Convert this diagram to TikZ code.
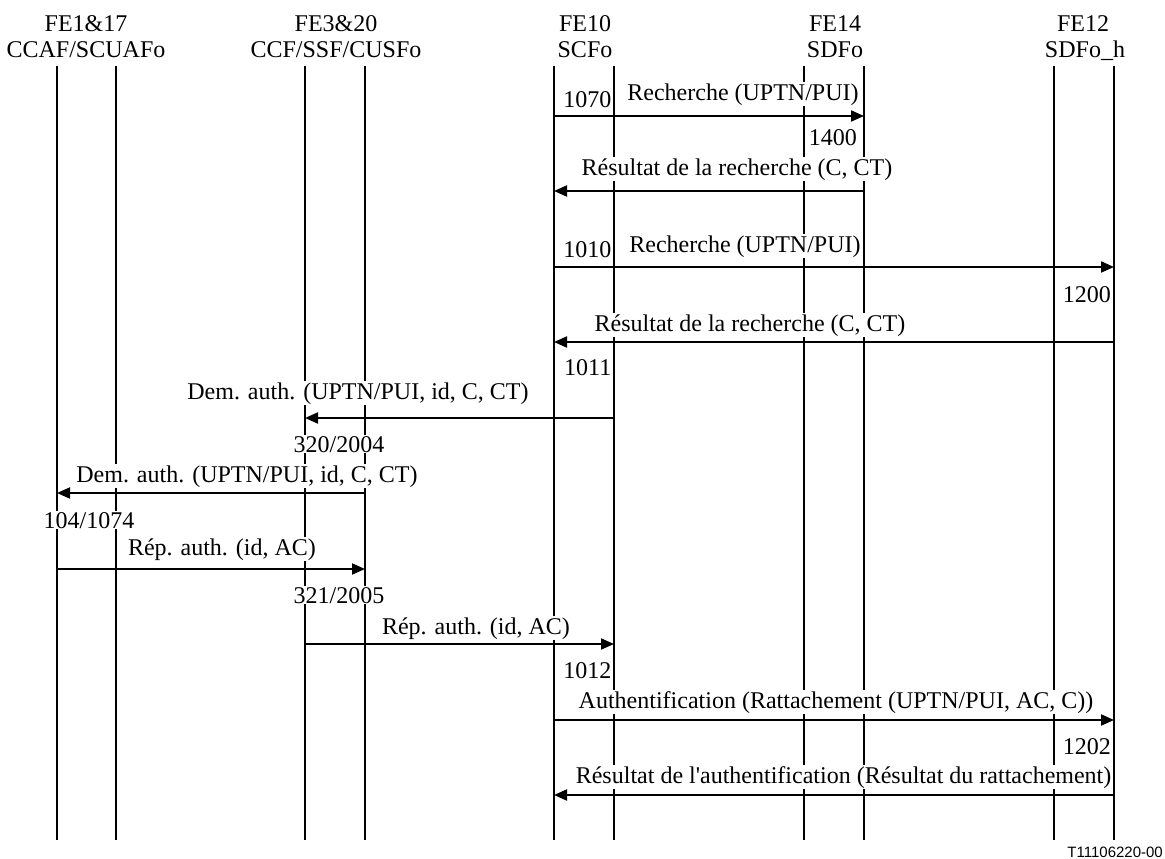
\documentclass[tikz,border=0pt]{standalone}
\usepackage{fontspec}
\setmainfont{Liberation Serif}
\newfontfamily\figsans{Liberation Sans}
\usetikzlibrary{arrows.meta}
\begin{document}
\begin{tikzpicture}[x=1pt,y=-1pt,
  lifeline/.style={line width=2pt},
  msg/.style={line width=2pt,-{Triangle[length=13pt,width=11pt]}},
  lbl/.style={fill=white,inner sep=1pt,font=\fontsize{24}{28}\selectfont},
  hdr/.style={inner sep=0pt,font=\fontsize{24}{28}\selectfont},
  figid/.style={inner sep=0pt,font=\figsans\fontsize{15}{18}\selectfont}]
\useasboundingbox (0,0) rectangle (1165,859);

% lifeline ends
\foreach \n/\x in {ccaf/57, scuafo/116, ccf/305, cusfo/365, scfo/554, scfob/614,
                   sdfoa/804, sdfo/864, sdfoha/1054, sdfoh/1114} {
  \coordinate (\n-top) at (\x,66);
  \coordinate (\n-bot) at (\x,840);
  \draw[lifeline] (\n-top) -- (\n-bot);
}

% headers
\node[hdr,anchor=base] (h1a) at (86,32) {FE1\&17};
\node[hdr,anchor=base] (h1b) at (86,58) {CCAF/SCUAFo};
\node[hdr,anchor=base] (h2a) at (336,32) {FE3\&20};
\node[hdr,anchor=base] (h2b) at (336,58) {CCF/SSF/CUSFo};
\node[hdr,anchor=base] (h3a) at (585,32) {FE10};
\node[hdr,anchor=base] (h3b) at (585,58) {SCFo};
\node[hdr,anchor=base] (h4a) at (835,32) {FE14};
\node[hdr,anchor=base] (h4b) at (835,58) {SDFo};
\node[hdr,anchor=base] (h5a) at (1083,32) {FE12};
\node[hdr,anchor=base] (h5b) at (1085,58) {SDFo\_h};

% message rows
\coordinate (r1) at (0,116);
\coordinate (r2) at (0,191);
\coordinate (r3) at (0,267);
\coordinate (r4) at (0,342);
\coordinate (r5) at (0,418);
\coordinate (r6) at (0,493);
\coordinate (r7) at (0,569);
\coordinate (r8) at (0,644);
\coordinate (r9) at (0,720);
\coordinate (r10) at (0,795);

% messages
\draw[msg] (scfo-top |- r1) -- (sdfo-top |- r1);
\draw[msg] (sdfo-top |- r2) -- (scfo-top |- r2);
\draw[msg] (scfo-top |- r3) -- (sdfoh-top |- r3);
\draw[msg] (sdfoh-top |- r4) -- (scfo-top |- r4);
\draw[msg] (scfob-top |- r5) -- (ccf-top |- r5);
\draw[msg] (cusfo-top |- r6) -- (ccaf-top |- r6);
\draw[msg] (ccaf-top |- r7) -- (cusfo-top |- r7);
\draw[msg] (ccf-top |- r8) -- (scfob-top |- r8);
\draw[msg] (scfo-top |- r9) -- (sdfoh-top |- r9);
\draw[msg] (sdfoh-top |- r10) -- (scfo-top |- r10);

% message labels
\node[lbl,anchor=base east] (n1070) at (612.5,107) {1070};
\node[lbl,anchor=base] (t1) at (743,100) {Recherche (UPTN/PUI)};
\node[lbl,anchor=base east] (n1400) at (858,145) {1400};
\node[lbl,anchor=base] (t2) at (737,175) {Résultat de la recherche (C, CT)};
\node[lbl,anchor=base east] (n1010) at (612.5,257) {1010};
\node[lbl,anchor=base] (t3) at (745,252) {Recherche (UPTN/PUI)};
\node[lbl,anchor=base east] (n1200) at (1112,302) {1200};
\node[lbl,anchor=base] (t4) at (750,331) {Résultat de la recherche (C, CT)};
\node[lbl,anchor=base east] (n1011) at (612.5,375) {1011};
\node[lbl,anchor=base] (t5) at (358,399) {Dem. auth. (UPTN/PUI, id, C, CT)};
\node[lbl,anchor=base] (n320) at (339,452) {320/2004};
\node[lbl,anchor=base] (t6) at (247,482) {Dem. auth. (UPTN/PUI, id, C, CT)};
\node[lbl,anchor=base] (n104) at (89,528) {104/1074};
\node[lbl,anchor=base] (t7) at (222,555) {Rép. auth. (id, AC)};
\node[lbl,anchor=base] (n321) at (339,603) {321/2005};
\node[lbl,anchor=base] (t8) at (476,634) {Rép. auth. (id, AC)};
\node[lbl,anchor=base east] (n1012) at (612.5,678) {1012};
\node[lbl,anchor=base] (t9) at (836,708) {Authentification (Rattachement (UPTN/PUI, AC, C))};
\node[lbl,anchor=base east] (n1202) at (1112,754) {1202};
\node[lbl,anchor=base east] (t10) at (1112.5,783) {Résultat de l\textquotesingle authentification (Résultat du rattachement)};

% figure number
\node[figid,anchor=base east] (fig) at (1163,857) {T11106220-00};
\end{tikzpicture}
\end{document}
